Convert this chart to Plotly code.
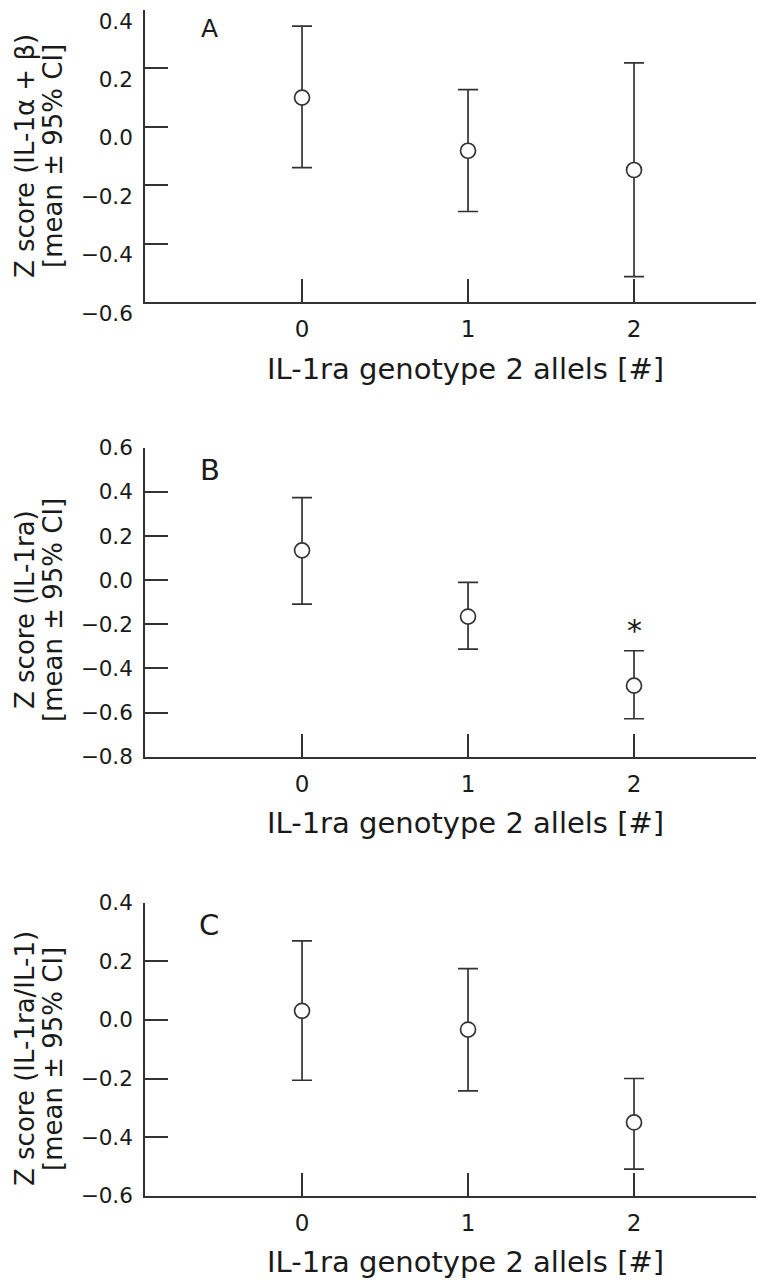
import plotly.graph_objects as go

# ---------------- data ----------------
genotype = [0, 1, 2]
x_ticktext = ["0", "1", "2"]

a_mean = [0.10, -0.082, -0.148]
a_hi = [0.345, 0.127, 0.219]
a_lo = [-0.14, -0.29, -0.513]

b_mean = [0.135, -0.165, -0.478]
b_hi = [0.374, -0.01, -0.32]
b_lo = [-0.109, -0.313, -0.628]

c_mean = [0.031, -0.033, -0.35]
c_hi = [0.27, 0.175, -0.20]
c_lo = [-0.206, -0.242, -0.509]

a_yticks = [-0.6, -0.4, -0.2, 0.0, 0.2, 0.4]
a_yticktext = ["\u22120.6", "\u22120.4", "\u22120.2", "0.0", "0.2", "0.4"]
b_yticks = [-0.8, -0.6, -0.4, -0.2, 0.0, 0.2, 0.4, 0.6]
b_yticktext = ["\u22120.8", "\u22120.6", "\u22120.4", "\u22120.2", "0.0", "0.2", "0.4", "0.6"]
c_yticks = a_yticks
c_yticktext = a_yticktext

panel_letters = ["A", "B", "C"]
ytitle_line1 = ["Z score (IL-1\u03b1 + \u03b2)", "Z score (IL-1ra)", "Z score (IL-1ra/IL-1)"]
ytitle_line2 = "[mean \u00b1 95% CI]"
xtitle = "IL-1ra genotype 2 allels [#]"
star_y = -0.228

# ---------------- layout geometry ----------------
W, H = 764, 1280
OFF = 8            # page body margin offset
ML = 145 - OFF
MR = OFF
FONT = "DejaVu Sans"
INK = "#333333"
TXT = "#1a1a1a"


def py(px):
    return 1 - (px - OFF) / H


def pxx(px):
    return (px - OFF - ML) / (W - ML - MR)


domains = [
    [py(302), py(10)],
    [py(756.7), py(447.7)],
    [py(1195.7), py(902.7)],
]
yranges = [[-0.6, 0.4], [-0.8, 0.6], [-0.6, 0.4]]
xrange_ = [-0.946, 2.783]
label_shift = [11, 0, 0]

fig = go.Figure()

sets = [(a_mean, a_hi, a_lo), (b_mean, b_hi, b_lo), (c_mean, c_hi, c_lo)]
for i, (m, hi, lo) in enumerate(sets):
    suffix = "" if i == 0 else str(i + 1)
    fig.add_trace(go.Scatter(
        x=genotype, y=m, mode="markers",
        xaxis="x" + suffix, yaxis="y" + suffix,
        marker=dict(symbol="circle", size=15, color="white",
                    line=dict(color=INK, width=1.7)),
        error_y=dict(type="data", symmetric=False,
                     array=[h - v for h, v in zip(hi, m)],
                     arrayminus=[v - l for v, l in zip(m, lo)],
                     color=INK, thickness=1.7, width=10),
        showlegend=False, hoverinfo="skip",
    ))

ytick_sets = [(a_yticks, a_yticktext), (b_yticks, b_yticktext), (c_yticks, c_yticktext)]
layout = dict(
    width=W, height=H,
    margin=dict(l=ML, r=MR, t=0, b=0, autoexpand=False),
    paper_bgcolor="white", plot_bgcolor="white",
    font=dict(family=FONT, color=TXT, size=22),
    showlegend=False,
)
for i in range(3):
    suffix = "" if i == 0 else str(i + 1)
    layout["xaxis" + suffix] = dict(
        domain=[0, 1], anchor="y" + suffix, range=xrange_,
        tickvals=genotype, ticktext=x_ticktext,
        ticks="inside", ticklen=23, tickwidth=1.7, tickcolor=INK,
        showline=True, linewidth=1.7, linecolor=INK,
        showgrid=False, zeroline=False, automargin=False,
        tickfont=dict(family=FONT, size=23, color=TXT),
        ticklabelstandoff=6, ticklabeloverflow="allow",
    )
    yt, ytt = ytick_sets[i]
    layout["yaxis" + suffix] = dict(
        domain=domains[i], anchor="x" + suffix, range=yranges[i],
        tickvals=yt, ticktext=ytt,
        ticks="inside", ticklen=23, tickwidth=1.7, tickcolor=INK,
        showline=True, linewidth=1.7, linecolor=INK,
        showgrid=False, zeroline=False, automargin=False,
        tickfont=dict(family=FONT, size=21.5, color=TXT),
        ticklabelstandoff=6, ticklabeloverflow="allow",
        ticklabelshift=label_shift[i],
    )
fig.update_layout(**layout)

# annotations: panel letters, axis titles, asterisk
letter_pos = [(209, 28.5, 25), (209.5, 470, 29), (209, 925, 29)]
ytitle_centers = [156, 610, 1059]
xtitle_centers = [368.5, 823, 1262]
ann = []
for i in range(3):
    lx, ly, ls = letter_pos[i]
    ann.append(dict(xref="paper", yref="paper", x=pxx(lx), y=py(ly),
                    text=panel_letters[i], showarrow=False,
                    xanchor="center", yanchor="middle",
                    font=dict(family=FONT, size=ls, color=TXT)))
    ann.append(dict(xref="paper", yref="paper", x=pxx(25), y=py(ytitle_centers[i]),
                    text=ytitle_line1[i], textangle=-90, showarrow=False,
                    xanchor="center", yanchor="middle",
                    font=dict(family=FONT, size=26, color=TXT)))
    ann.append(dict(xref="paper", yref="paper", x=pxx(53), y=py(ytitle_centers[i]),
                    text=ytitle_line2, textangle=-90, showarrow=False,
                    xanchor="center", yanchor="middle",
                    font=dict(family=FONT, size=26, color=TXT)))
    ann.append(dict(xref="paper", yref="paper", x=pxx(465), y=py(xtitle_centers[i]),
                    text=xtitle, showarrow=False,
                    xanchor="center", yanchor="middle",
                    font=dict(family=FONT, size=29, color=TXT)))
ann.append(dict(xref="x2", yref="y2", x=2, y=star_y, text="*", showarrow=False,
                xanchor="center", yanchor="middle",
                font=dict(family=FONT, size=30, color=TXT)))
fig.update_layout(annotations=ann)

fig.write_html("out.html")
